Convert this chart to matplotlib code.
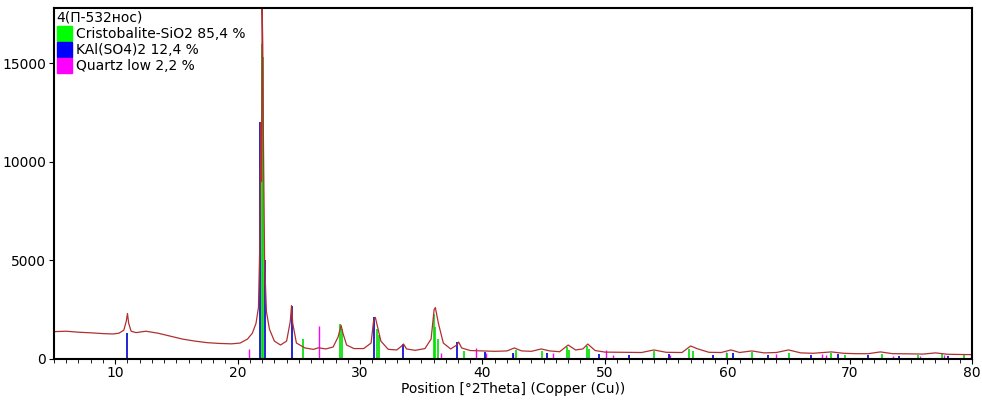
import matplotlib
matplotlib.use("Agg")
import matplotlib.pyplot as plt
from matplotlib.patches import Patch

# measured profile (2theta, counts)
pos = [5, 6, 7, 8, 9, 9.8, 10.3, 10.7, 10.9, 11.0, 11.1, 11.3, 11.7, 12.5, 13.5, 14.5, 15.5, 16.5,
       17.5, 18.5, 19.5, 20.2, 20.8, 21.2, 21.5, 21.7, 21.8, 21.9, 21.95, 22.0, 22.05, 22.1, 22.2, 22.35,
       22.6, 23.0, 23.5, 24.0, 24.3, 24.4, 24.5, 24.8, 25.5, 26.2, 26.6, 27.2, 27.8, 28.2, 28.45, 28.6,
       28.9, 29.5, 30.3, 30.9, 31.1, 31.25, 31.4, 31.7, 32.3, 33.0, 33.4, 33.55, 33.8, 34.5, 35.3, 35.8,
       36.05, 36.15, 36.4, 36.8, 37.4, 37.9, 38.05, 38.3, 39.0, 40.0, 41.0, 42.0, 42.6, 43.2, 44.0, 44.8,
       45.5, 46.3, 47.0, 47.6, 48.2, 48.6, 49.2, 50.0, 51.5, 53.0, 54.0, 55.0, 56.3, 57.0, 57.6, 58.5,
       59.5, 60.3, 61.0, 62.0, 63.0, 64.0, 65.0, 66.0, 67.0, 68.5, 69.5, 70.5, 71.5, 72.5, 73.5, 75.0,
       76.0, 77.0, 78.0, 79.0, 80.0]
counts = [1380, 1400, 1350, 1320, 1280, 1260, 1300, 1450, 1900, 2300, 1800, 1400, 1330, 1400, 1300, 1150, 1000, 900,
          820, 780, 760, 800, 1000, 1300, 1800, 2600, 5500, 12000, 9000, 17800, 16000, 11500, 5000, 2400,
          1500, 900, 700, 900, 1900, 2700, 1800, 800, 550, 480, 560, 500, 600, 1100, 1700, 1300,
          700, 520, 520, 800, 1900, 2100, 1700, 900, 480, 450, 650, 750, 500, 430, 520, 1000,
          2500, 2600, 1800, 800, 500, 700, 850, 550, 420, 400, 380, 400, 550, 400, 380, 500,
          400, 360, 700, 450, 500, 750, 420, 340, 330, 320, 450, 330, 320, 650, 500, 330,
          320, 450, 320, 400, 300, 320, 450, 300, 280, 350, 280, 260, 260, 350, 260, 250,
          240, 300, 230, 220, 210]

cris_pos = [21.95, 22.1, 25.3, 28.4, 28.55, 31.4, 31.55, 36.0, 36.15, 36.4, 38.5, 42.7, 44.9, 46.9, 47.1,
            48.5, 48.7, 54.0, 56.9, 57.2, 60.0, 62.0, 65.0, 68.5, 69.6, 72.6, 75.6, 77.5, 79.3]
cris_int = [16000, 15300, 1000, 1750, 1500, 1500, 1200, 2300, 1600, 1000, 400, 450, 400, 600, 450,
            650, 500, 400, 500, 400, 300, 350, 300, 300, 200, 250, 200, 250, 200]
kal_pos = [11.0, 21.8, 22.25, 24.4, 31.1, 33.5, 37.9, 40.2, 42.5, 45.3, 49.5, 52.0, 55.2, 58.8, 60.5,
           63.3, 66.8, 69.0, 71.5, 74.0, 78.0]
kal_int = [1300, 12000, 5000, 2700, 2100, 750, 850, 350, 300, 300, 250, 200, 250, 200, 300,
           200, 200, 250, 200, 150, 150]
qtz_pos = [20.9, 26.65, 36.6, 39.5, 40.3, 42.5, 45.8, 50.1, 50.7, 55.3, 59.9, 64.0, 67.7, 68.1, 73.5, 75.7, 77.7, 79.9]
qtz_int = [500, 1650, 300, 550, 300, 250, 300, 450, 200, 200, 350, 250, 250, 200, 150, 150, 200, 150]

fig = plt.figure(figsize=(9.82, 4.11), dpi=100)
ax = fig.add_axes([0.055, 0.127, 0.935, 0.853])
ax.vlines(qtz_pos, 0, qtz_int, color="#ff00ff", lw=1)
ax.vlines(kal_pos, 0, kal_int, color="#0000cc", lw=1.2)
ax.vlines(cris_pos, 0, cris_int, color="#00dd00", lw=1.2)
ax.plot(pos, counts, color="#b03030", lw=0.9)

ax.set_xlim(5, 80)
ax.set_ylim(0, 17800)
ax.set_xticks(range(10, 81, 10))
ax.set_xticks(range(5, 81, 1), minor=True)
ax.set_yticks([0, 5000, 10000, 15000])
ax.tick_params(labelsize=10, direction="out", pad=2)
ax.tick_params(axis="x", which="minor", length=3)
for s in ax.spines.values():
    s.set_linewidth(1.5)
ax.set_xlabel("Position [°2Theta] (Copper (Cu))", fontsize=10, labelpad=1)

handles = [Patch(color="#00ff00"), Patch(color="#0000ff"), Patch(color="#ff00ff")]
labels = ["Cristobalite-SiO2 85,4 %", "KAl(SO4)2 12,4 %", "Quartz low 2,2 %"]
leg = ax.legend(handles, labels, title="4(П-532нос)", loc="upper left", frameon=False,
                fontsize=10, title_fontsize=10, handlelength=1.1, handleheight=1.3,
                handletextpad=0.3, labelspacing=0.05, borderaxespad=0.1, borderpad=0.1)
leg._legend_box.align = "left"

fig.savefig("out.png")
